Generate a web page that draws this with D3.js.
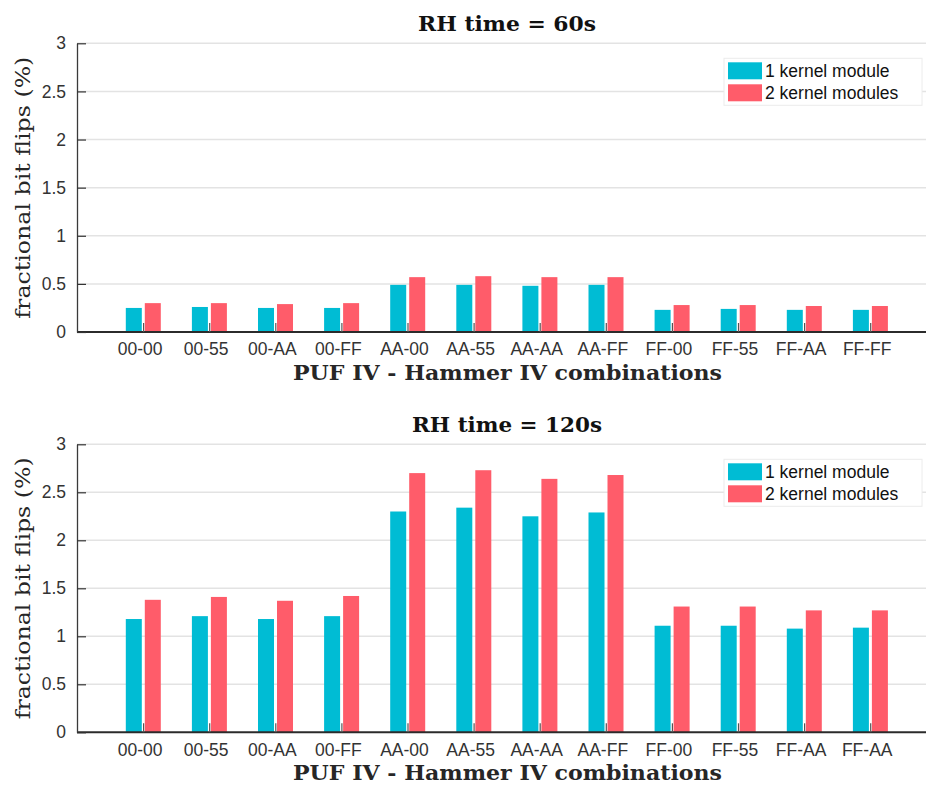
<!DOCTYPE html>
<html>
<head>
<meta charset="utf-8">
<script src="https://cdn.jsdelivr.net/npm/d3@7"></script>
<style>
  html, body { margin: 0; padding: 0; background: #fff; }
  svg { display: block; }
</style>
</head>
<body>
<script>
// PUF IV - Hammer IV data-pattern combinations
const categories60 = ["00-00","00-55","00-AA","00-FF","AA-00","AA-55","AA-AA","AA-FF","FF-00","FF-55","FF-AA","FF-FF"];
const categories120 = ["00-00","00-55","00-AA","00-FF","AA-00","AA-55","AA-AA","AA-FF","FF-00","FF-55","FF-AA","FF-AA"];

// fractional bit flips (%) after 60 s of row hammering
const oneModule60 = [0.25,0.26,0.25,0.25,0.49,0.49,0.48,0.49,0.23,0.24,0.23,0.23];
const twoModules60 = [0.30,0.30,0.29,0.30,0.57,0.58,0.57,0.57,0.28,0.28,0.27,0.27];

// fractional bit flips (%) after 120 s of row hammering
const oneModule120 = [1.18,1.21,1.18,1.21,2.30,2.34,2.25,2.29,1.11,1.11,1.08,1.09];
const twoModules120 = [1.38,1.41,1.37,1.42,2.70,2.73,2.64,2.68,1.31,1.31,1.27,1.27];

const yTicks = [0, 0.5, 1, 1.5, 2, 2.5, 3];
const seriesNames = ["1 kernel module", "2 kernel modules"];
const seriesColors = ["#00bcd4", "#ff5c6a"];

const W = 926, H = 785;
const svg = d3.select("body").append("svg")
  .attr("width", W).attr("height", H)
  .attr("viewBox", `0 0 ${W} ${H}`);

const sansFont = "'Liberation Sans', Arial, sans-serif";
const serifFont = "'DejaVu Serif', 'Liberation Serif', serif";

function drawPanel(opts) {
  const { top, bottom, title, cats, s1, s2 } = opts;
  const left = 77;
  const g = svg.append("g");

  const x = d3.scaleLinear().domain([0, cats.length + 1]).range([left, left + 66.1 * (cats.length + 1)]);
  const y = d3.scaleLinear().domain([0, 3]).range([bottom, top]);

  // grid
  g.append("g").selectAll("line").data(yTicks.filter(d => d > 0)).join("line")
    .attr("x1", left).attr("x2", W)
    .attr("y1", d => y(d)).attr("y2", d => y(d))
    .attr("stroke", "#e3e3e3").attr("stroke-width", 1.5);

  // bars
  const barW = 16;
  const rows = cats.map((c, i) => ({ i, v1: s1[i], v2: s2[i] }));
  g.append("g").selectAll("rect").data(rows).join("rect")
    .attr("x", d => x(d.i + 1) - 1.3 - barW)
    .attr("width", barW)
    .attr("y", d => y(d.v1))
    .attr("height", d => y(0) - y(d.v1))
    .attr("fill", seriesColors[0]);
  g.append("g").selectAll("rect").data(rows).join("rect")
    .attr("x", d => x(d.i + 1) + 1.7)
    .attr("width", barW)
    .attr("y", d => y(d.v2))
    .attr("height", d => y(0) - y(d.v2))
    .attr("fill", seriesColors[1]);

  // x axis
  const xAxis = d3.axisBottom(x)
    .tickValues(d3.range(1, cats.length + 1))
    .tickFormat(d => cats[d - 1])
    .tickSizeInner(-9).tickSizeOuter(0).tickPadding(11);
  const xa = g.append("g").attr("transform", `translate(0,${bottom})`).call(xAxis);
  xa.select(".domain").attr("d", `M${left},0H${W}`).attr("stroke", "#2b2b2b").attr("stroke-width", 2);
  xa.selectAll(".tick line").attr("stroke", "#555").attr("stroke-width", 1.2);
  xa.selectAll(".tick text")
    .attr("font-family", sansFont).attr("font-size", 17.5).attr("fill", "#333")
    .attr("dx", -3.5);

  // y axis
  const yAxis = d3.axisLeft(y).tickValues(yTicks).tickFormat(d3.format("")).tickSizeInner(-9).tickSizeOuter(0).tickPadding(11);
  const ya = g.append("g").attr("transform", `translate(${left},0)`).call(yAxis);
  ya.select(".domain").attr("stroke", "#3a3a3a").attr("stroke-width", 1.3);
  ya.selectAll(".tick line").attr("stroke", "#333").attr("stroke-width", 1.2);
  ya.selectAll(".tick text")
    .attr("font-family", sansFont).attr("font-size", 17.5).attr("fill", "#333");

  // title
  g.append("text")
    .attr("x", 507).attr("y", top - 12)
    .attr("text-anchor", "middle")
    .attr("font-family", serifFont).attr("font-weight", "bold").attr("font-size", 21)
    .attr("fill", "#111")
    .attr("textLength", title.length > 13 ? 190 : 178).attr("lengthAdjust", "spacingAndGlyphs")
    .text(title);

  // x label
  g.append("text")
    .attr("x", 507.5).attr("y", bottom + 48)
    .attr("text-anchor", "middle")
    .attr("font-family", serifFont).attr("font-weight", "bold").attr("font-size", 20)
    .attr("fill", "#262626")
    .attr("textLength", 429).attr("lengthAdjust", "spacingAndGlyphs")
    .text("PUF IV - Hammer IV combinations");

  // y label
  g.append("text")
    .attr("transform", `translate(30,${(top + bottom) / 2}) rotate(-90)`)
    .attr("text-anchor", "middle")
    .attr("font-family", serifFont).attr("font-size", 20)
    .attr("fill", "#262626")
    .attr("textLength", 262).attr("lengthAdjust", "spacingAndGlyphs")
    .text("fractional bit flips (%)");

  // legend
  const lg = g.append("g").attr("transform", `translate(724,${top + 15})`);
  lg.append("rect").attr("width", 198).attr("height", 47)
    .attr("fill", "#fff").attr("stroke", "#ececec").attr("stroke-width", 1);
  seriesNames.forEach((name, k) => {
    lg.append("rect").attr("x", 4).attr("y", 4 + k * 22).attr("width", 34).attr("height", 17)
      .attr("fill", seriesColors[k]);
    lg.append("text").attr("x", 41).attr("y", 19 + k * 22)
      .attr("font-family", sansFont).attr("font-size", 17.5).attr("fill", "#111")
      .text(name);
  });
}

drawPanel({ top: 43.3, bottom: 332, title: "RH time = 60s", cats: categories60, s1: oneModule60, s2: twoModules60 });
drawPanel({ top: 444.3, bottom: 732.3, title: "RH time = 120s", cats: categories120, s1: oneModule120, s2: twoModules120 });
</script>
</body>
</html>
